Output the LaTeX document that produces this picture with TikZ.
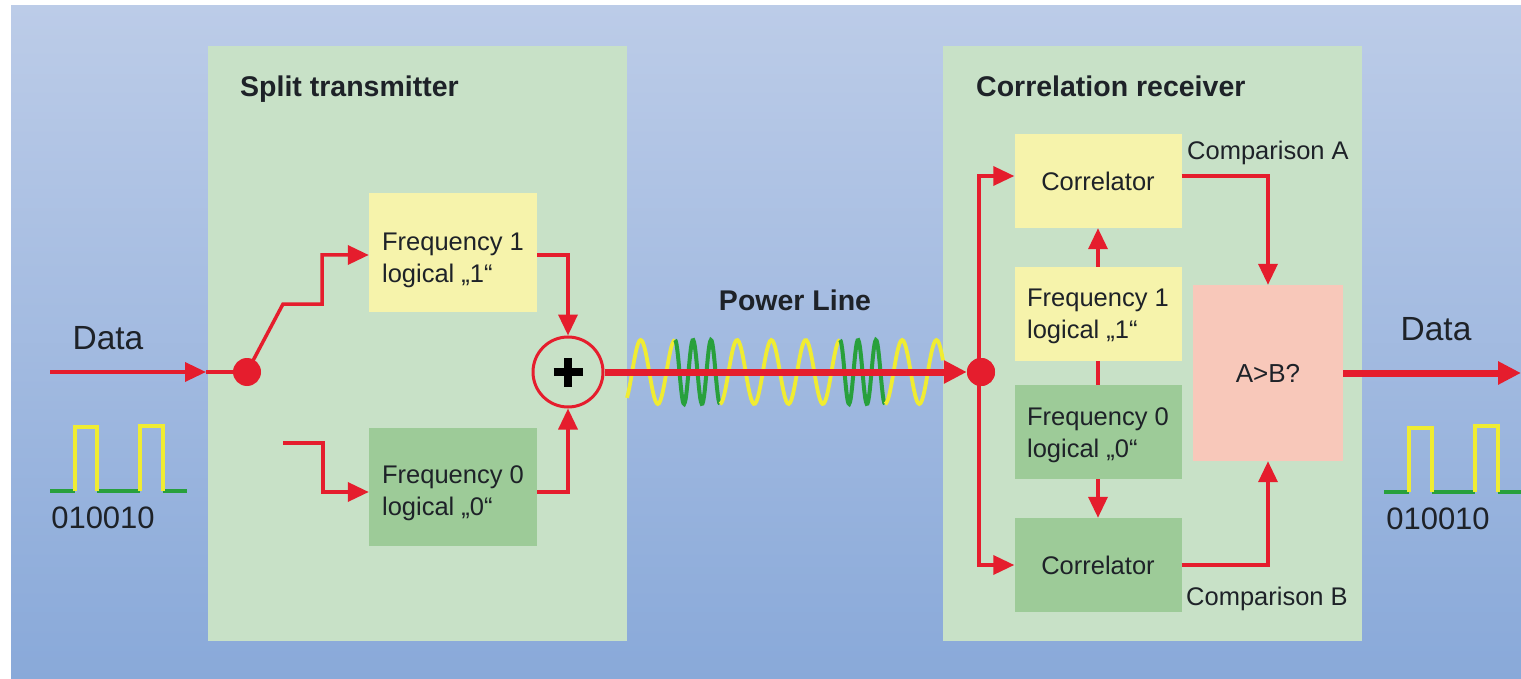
\documentclass[tikz,border=0pt]{standalone}
\usepackage{fontspec}
\setmainfont{Liberation Sans}
\usetikzlibrary{arrows.meta}
\definecolor{bgtop}{RGB}{188,204,232}
\definecolor{bgbot}{RGB}{137,169,217}
\definecolor{panelg}{RGB}{200,225,199}
\definecolor{boxy}{RGB}{246,243,171}
\definecolor{boxg}{RGB}{157,203,152}
\definecolor{boxp}{RGB}{248,200,186}
\definecolor{myred}{RGB}{229,29,45}
\definecolor{wavey}{RGB}{240,236,50}
\definecolor{waveg}{RGB}{40,160,60}
\definecolor{ink}{RGB}{30,34,40}
\begin{document}
\begin{tikzpicture}[x=1pt,y=-1pt,
  panel/.style={rectangle, fill=panelg, draw=none, inner sep=0},
  ybox/.style={rectangle, fill=boxy, draw=none, inner sep=0, minimum width=167, font=\fontsize{25.5}{32}\selectfont, text=ink},
  gbox/.style={rectangle, fill=boxg, draw=none, inner sep=0, minimum width=167, font=\fontsize{25.5}{32}\selectfont, text=ink},
  pbox/.style={rectangle, fill=boxp, draw=none, inner sep=0, font=\fontsize{26}{32}\selectfont, text=ink},
  txt/.style={inner sep=0, font=\fontsize{25.5}{32}\selectfont, text=ink},
  bigtxt/.style={inner sep=0, font=\fontsize{31}{36}\selectfont, text=ink},
  datatxt/.style={inner sep=0, font=\fontsize{33.5}{38}\selectfont, text=ink},
  ttl/.style={inner sep=0, font=\bfseries\fontsize{28.5}{34}\selectfont, text=ink},
  redline/.style={draw=myred, line width=3.5},
  arr/.style={redline, -{Triangle[length=21pt,width=19pt]}},
  thickarr/.style={draw=myred, line width=7, -{Triangle[length=23pt,width=22pt]}},
  dotn/.style={circle, fill=myred, draw=none, minimum size=28, inner sep=0},
  sq/.style={line width=3.5},
]
\useasboundingbox (0,0) rectangle (1521,679);
\fill[white] (0,0) rectangle (1521,679);
\shade[top color=bgtop, bottom color=bgbot] (11,6) rectangle (1521,679);

% panels
\node[panel, minimum width=419, minimum height=595] (tx) at (417.5,343.5) {};
\node[panel, minimum width=419, minimum height=595] (rx) at (1152.5,343.5) {};
\node[ttl, anchor=base west] (txtitle) at (240,97) {Split transmitter};
\node[ttl, anchor=base west] (rxtitle) at (976,97) {Correlation receiver};
\node[ttl, anchor=base] (pltitle) at (795,310) {Power Line};

% left data
\node[datatxt] (dataL) at (108,338) {Data};
\node[bigtxt] (bitsL) at (103,518) {010010};
\draw[waveg, sq] (50,491) -- (75,491) (97,491) -- (140,491) (163,491) -- (187,491);
\draw[wavey, sq] (75,491) -- (75,427) -- (97,427) -- (97,491) (140,491) -- (140,426) -- (163,426) -- (163,491);

% transmitter boxes
\node[ybox, minimum width=168, minimum height=119] (f1) at (453,252.5) {};
\node[txt, align=left] (f1t) at ([yshift=-7.5pt]f1.center) {Frequency 1\\logical „1“};
\node[gbox, minimum width=168, minimum height=118] (f0) at (453,487) {};
\node[txt, align=left] (f0t) at ([yshift=-6pt]f0.center) {Frequency 0\\logical „0“};
\node[circle, draw=myred, line width=3, fill=panelg, minimum size=70, inner sep=0] (plus) at (568,372) {};
\draw[black, line width=8] ([xshift=-14.5pt]plus.center) -- ([xshift=14.5pt]plus.center);
\draw[black, line width=8] ([yshift=-14.5pt]plus.center) -- ([yshift=14.5pt]plus.center);

% transmitter connectors
\coordinate (inL) at (50,372);
\coordinate (tipL) at (206,372);
\coordinate (f0in) at (283,443);
\draw[redline] (tipL) -- (247,372);
\draw[arr] (inL) -- (tipL);
\draw[arr] (247,372) -- (283,304) -- (322,304) |- ([yshift=-2.5pt]f1.west);
\node[dotn] (dotL) at (247,372) {};
\draw[arr] (f0in) -- (323,443) |- ([yshift=-5pt]f0.west);
\draw[arr] ([yshift=-2.5pt]f1.east) -| (plus.north);
\draw[arr] ([yshift=-5pt]f0.east) -| (plus.south);

% waves on the power line
\draw[wavey, line width=3.8] plot[domain=627:675, samples=40] (\x, {372-32*cos((\x-675)/34.3*360)});
\draw[waveg, line width=4] plot[domain=675:720, samples=60] (\x, {372-32*cos((\x-675)/18*360)});
\draw[wavey, line width=3.8] plot[domain=720:840, samples=90] (\x, {372-32*cos((\x-840)/34.3*360)});
\draw[waveg, line width=4] plot[domain=840:885, samples=60] (\x, {372-32*cos((\x-840)/18*360)});
\draw[wavey, line width=3.8] plot[domain=885:943, samples=45] (\x, {372+32*cos((\x-885)/34.3*360)});

% receiver
\node[dotn] (dotR) at (981,372) {};
\draw[thickarr] (plus.east) -- (dotR.west);
\node[ybox, minimum height=94] (corrA) at (1098,181) {Correlator};
\node[ybox, minimum height=94] (f1r) at (1098,314) {};
\node[txt, align=left] (f1rt) at ([yshift=-2pt]f1r.center) {Frequency 1\\logical „1“};
\node[gbox, minimum height=94] (f0r) at (1098,432) {};
\node[txt, align=left] (f0rt) at ([yshift=-3pt]f0r.center) {Frequency 0\\logical „0“};
\node[gbox, minimum height=94] (corrB) at (1098,565) {Correlator};
\node[pbox, minimum width=150, minimum height=176] (AB) at (1268,373) {A>B?};
\node[txt, anchor=base west] (cmpA) at (1187,160) {Comparison A};
\node[txt, anchor=base west] (cmpB) at (1186,605) {Comparison B};

\draw[arr] (979,372) |- ([yshift=5pt]corrA.west);
\draw[arr] (979,372) |- (corrB.west);
\node[dotn] at (981,372) {};
\draw[arr] (f1r.north) -- (corrA.south);
\draw[redline] (f1r.south) -- (f0r.north);
\draw[arr] (f0r.south) -- (corrB.north);
\draw[arr] ([yshift=5pt]corrA.east) -| (AB.north);
\draw[arr] (corrB.east) -| (AB.south);
\coordinate (outR) at (1521,373);
\draw[thickarr] (AB.east) -- (outR);

% right data
\node[datatxt] (dataR) at (1436,329) {Data};
\node[bigtxt] (bitsR) at (1438,519) {010010};
\draw[waveg, sq] (1384,492) -- (1409,492) (1432,492) -- (1475,492) (1498,492) -- (1521,492);
\draw[wavey, sq] (1409,492) -- (1409,428) -- (1432,428) -- (1432,492) (1475,492) -- (1475,426) -- (1498,426) -- (1498,492);
\end{tikzpicture}
\end{document}
